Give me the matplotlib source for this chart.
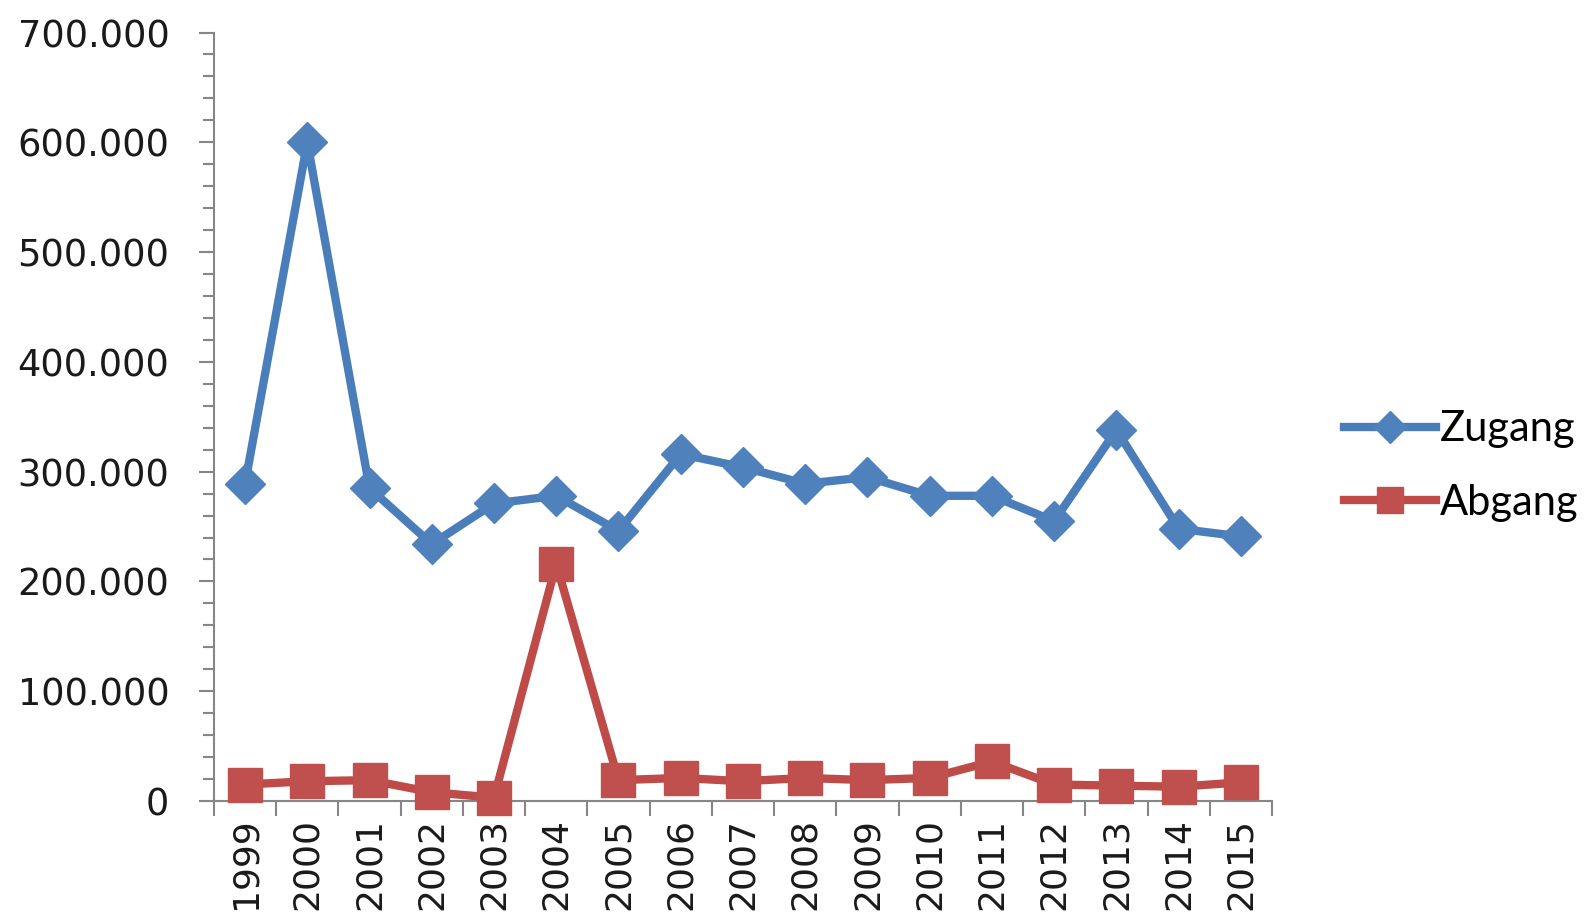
import matplotlib.pyplot as plt
from matplotlib.ticker import MultipleLocator, FuncFormatter

years = ['1999', '2000', '2001', '2002', '2003', '2004', '2005', '2006', '2007',
         '2008', '2009', '2010', '2011', '2012', '2013', '2014', '2015']
zugang = [289000, 600000, 285000, 234000, 271000, 278000, 246000, 316000, 304000,
          289000, 295000, 278000, 278000, 255000, 338000, 248000, 241000]
abgang = [15000, 18000, 19000, 8000, 3000, 216000, 19000, 21000, 18000,
          21000, 19000, 21000, 36000, 15000, 14000, 13000, 17000]

blue = '#4A7EBB'
red = '#BE4B48'
axis_gray = '#868686'

fig = plt.figure(figsize=(15.93, 9.21), dpi=100)
ax = fig.add_axes([0.1343, 0.1303, 0.7985 - 0.1343, 0.9647 - 0.1303])

x = list(range(len(years)))
l1, = ax.plot(x, zugang, color=blue, lw=6, marker='D', ms=20,
              mfc='#4F81BD', mec='#4F81BD', label='Zugang', zorder=3)
l2, = ax.plot(x, abgang, color=red, lw=6, marker='s', ms=24,
              mfc='#C0504D', mec='#C0504D', label='Abgang', zorder=3)

ax.set_xlim(-0.5, len(years) - 0.5)
ax.set_ylim(0, 700000)

# german thousands separator
ax.yaxis.set_major_locator(MultipleLocator(100000))
ax.yaxis.set_minor_locator(MultipleLocator(20000))
ax.yaxis.set_major_formatter(FuncFormatter(
    lambda v, p: '0' if v == 0 else f'{int(v):,}'.replace(',', '.')))

ax.set_xticks(x)
ax.set_xticklabels(years, rotation=90)
ax.set_xticks([i - 0.5 for i in range(len(years) + 1)], minor=True)

for s in ['top', 'right']:
    ax.spines[s].set_visible(False)
for s in ['left', 'bottom']:
    ax.spines[s].set_color(axis_gray)
    ax.spines[s].set_linewidth(1.5)
    ax.spines[s].set_zorder(1)

ax.tick_params(axis='y', which='major', length=11, width=1.5, color=axis_gray,
               labelsize=26.5, pad=21, labelcolor='#1a1a1a')
ax.tick_params(axis='y', which='minor', length=8, width=1.5, color=axis_gray)
ax.tick_params(axis='x', which='major', length=0, labelsize=26, pad=12,
               labelcolor='#1a1a1a')
ax.tick_params(axis='x', which='minor', length=11, width=1.5, color=axis_gray)
for lab in ax.get_yticklabels() + ax.get_xticklabels():
    lab.set_family('DejaVu Sans')

l1.set_clip_on(False)
l2.set_clip_on(False)

fig.legend(handles=[l1, l2], loc='center left',
           bbox_to_anchor=(1344 / 1593, 1 - 466 / 921),
           frameon=False, borderpad=0, borderaxespad=0,
           handlelength=2.2, handletextpad=0.1, labelspacing=0.85,
           prop={'family': 'Lato', 'size': 30}, markerscale=0.8)

fig.savefig('out.png', dpi=100, facecolor='white')
